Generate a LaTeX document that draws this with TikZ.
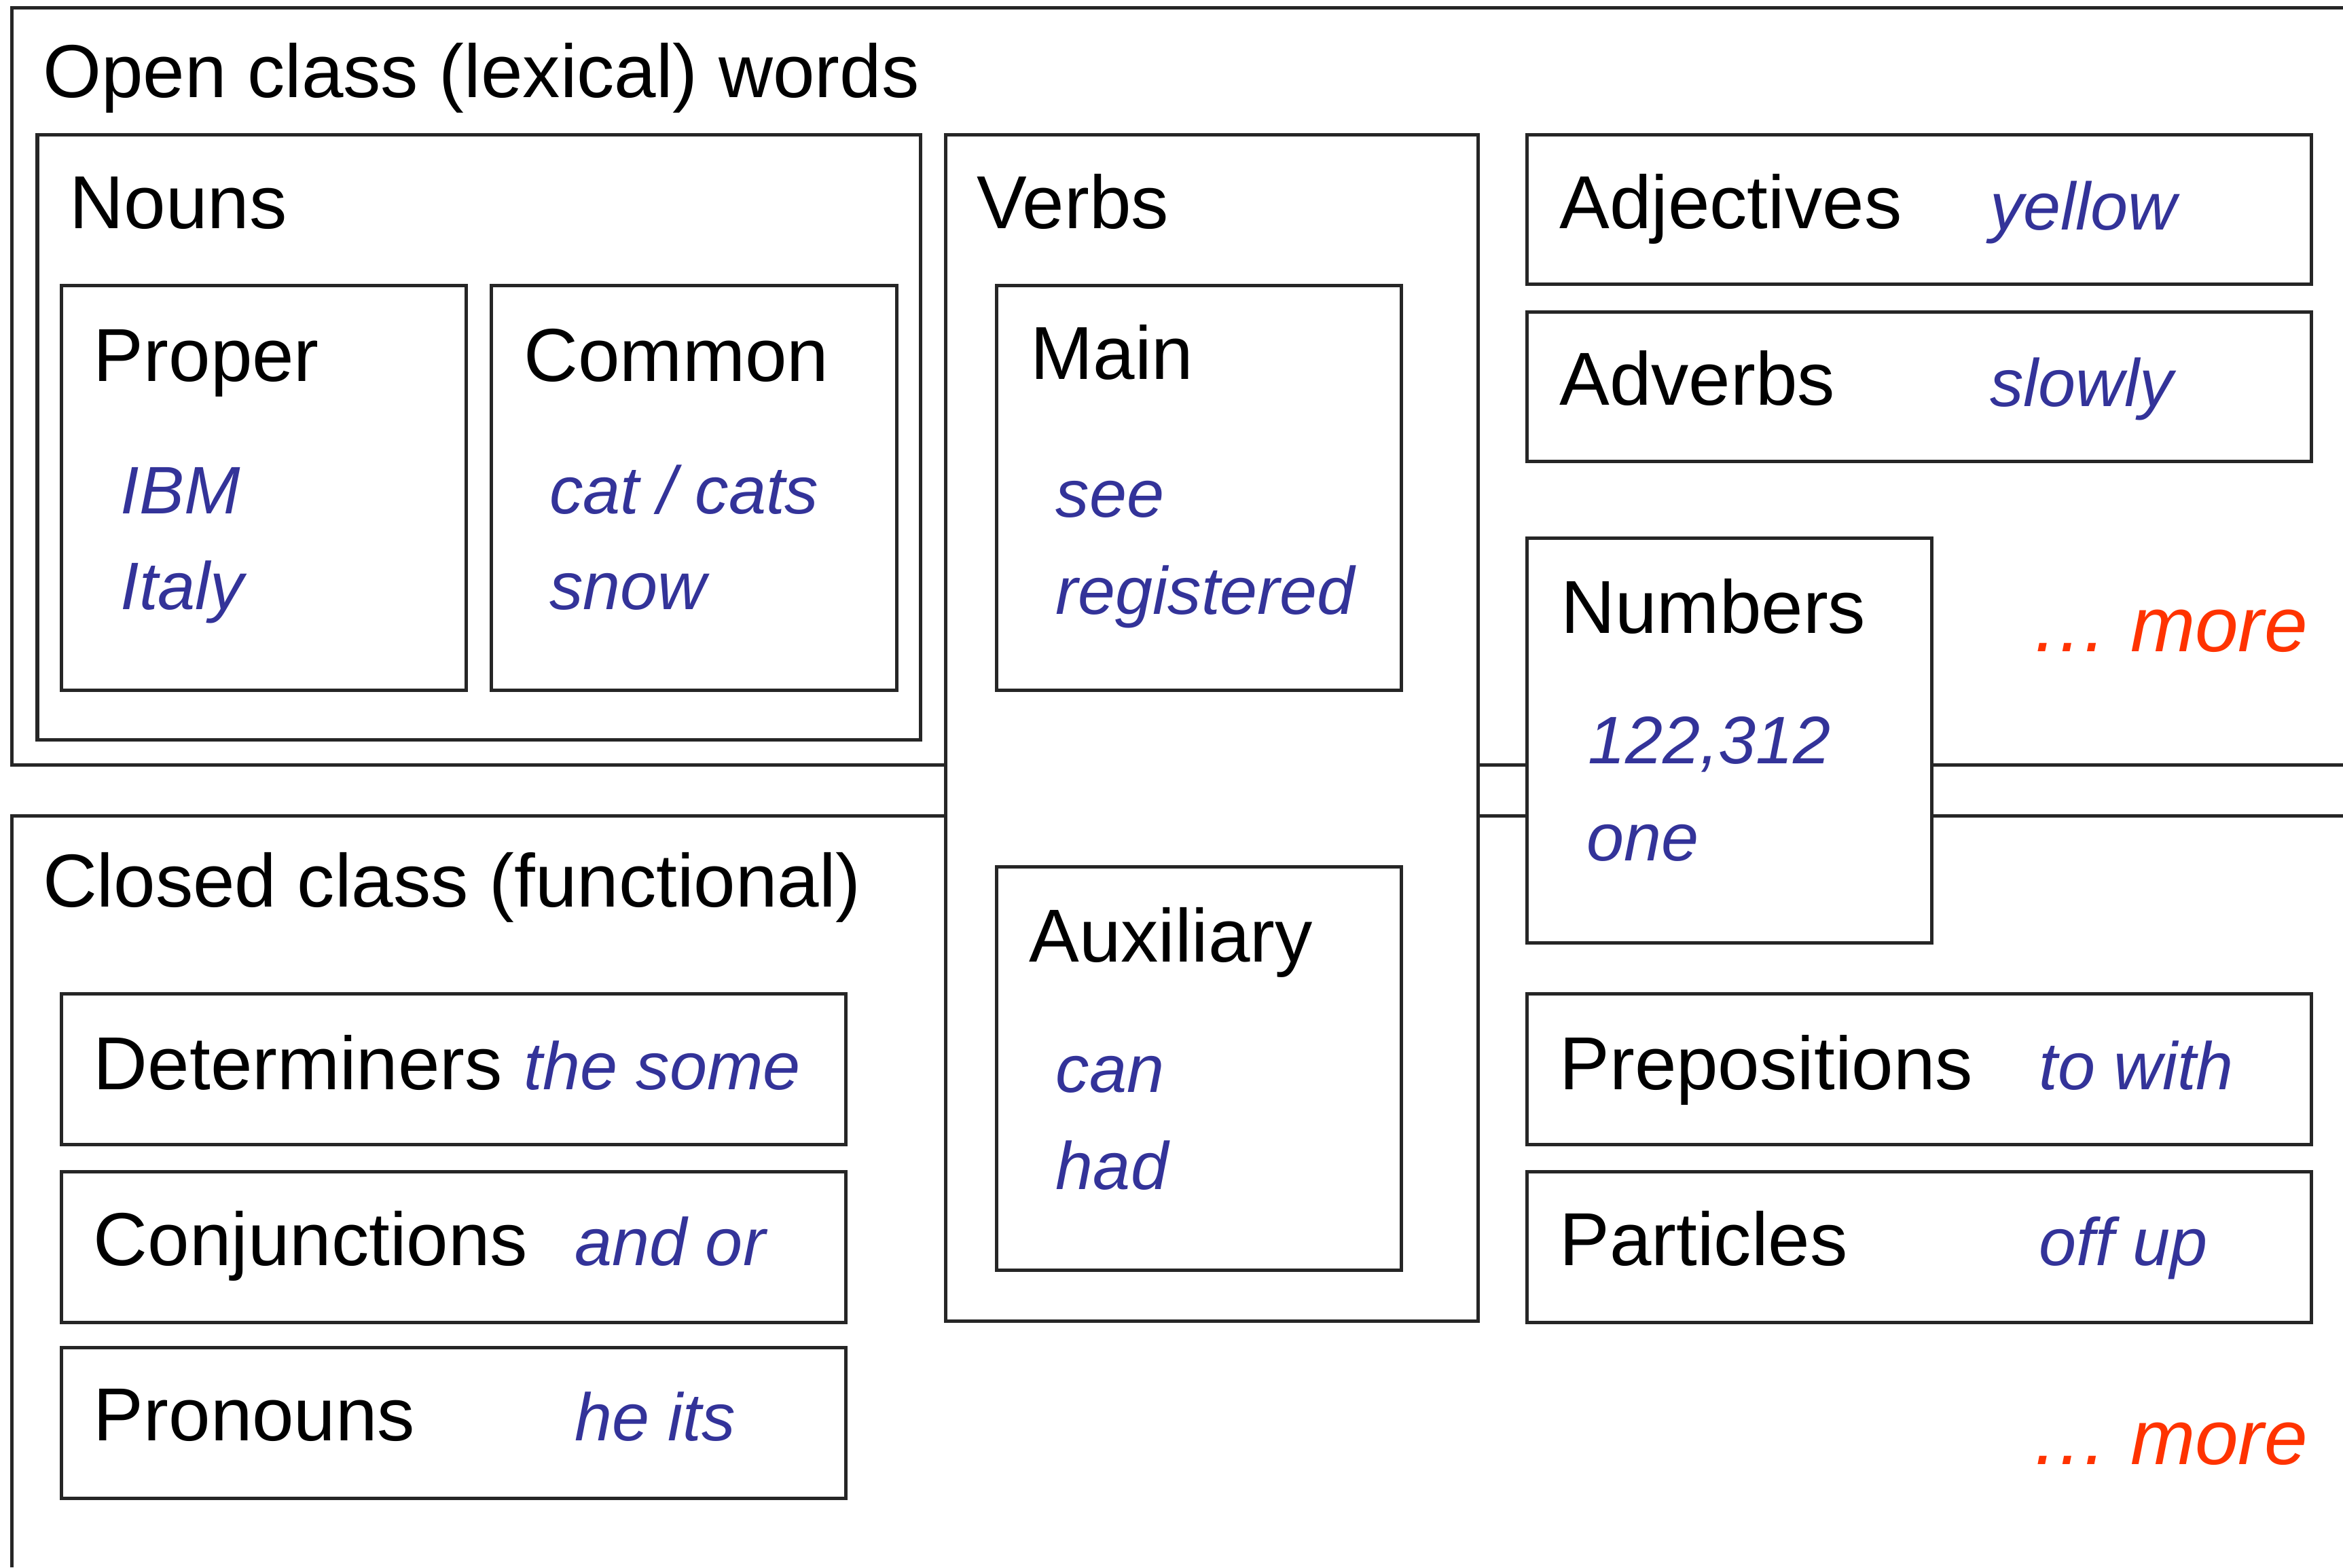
\documentclass[tikz,border=0pt]{standalone}
\usepackage{fontspec}
\setmainfont{Liberation Sans}
\usetikzlibrary{positioning}
\definecolor{exblue}{RGB}{51,51,153}
\definecolor{morered}{RGB}{255,51,0}

\begin{document}
\begin{tikzpicture}[x=0.1mm,y=-0.1mm,
  frame/.style={draw=black!85,line width=0.65pt},
  box/.style={frame,fill=white},
  hd/.style={anchor=base west,inner sep=0pt,font=\fontsize{14.3}{16}\selectfont},
  ex/.style={anchor=base west,inner sep=0pt,text=exblue,font=\fontsize{12.8}{15}\selectfont\itshape},
  moretxt/.style={anchor=base east,inner sep=0pt,text=morered,font=\fontsize{14.8}{17}\selectfont\itshape}]
\useasboundingbox (0,0) rectangle (1568,1049);
% open and closed class frames
\draw [frame] (1568,5) -- (8,5) -- (8,512) -- (1568,512);
\draw [frame] (1568,546) -- (8,546) -- (8,1049);
\node [hd] (open) at (28,65) {Open class (lexical) words};
\node [hd] (closed) at (28,607) {Closed class (functional)};
% nouns
\draw [box] (25,90) rectangle (616,495);
\draw [box] (41,191) rectangle (312,462);
\draw [box] (329,191) rectangle (600,462);
\node [hd] (nouns) at (46,153) {Nouns};
\node [hd] (proper) at (62,255) {Proper};
\node [ex] (ibm) at (80,344) {IBM};
\node [ex] (italy) at (80,408) {Italy};
\node [hd] (common) at (350,255) {Common};
\node [ex] (cat) at (367,344) {cat / cats};
\node [ex] (snow) at (367,408) {snow};
% verbs
\draw [box] (633,90) rectangle (989,884);
\draw [box] (667,191) rectangle (938,462);
\draw [box] (667,580) rectangle (938,850);
\node [hd] (verbs) at (653,153) {Verbs};
\node [hd] (main) at (689,254) {Main};
\node [ex] (see) at (706,346) {see};
\node [ex] (registered) at (706,411) {registered};
\node [hd] (aux) at (688,644) {Auxiliary};
\node [ex] (can) at (706,731) {can};
\node [ex] (had) at (706,796) {had};
% right column
\draw [box] (1022,90) rectangle (1547,190);
\draw [box] (1022,209) rectangle (1547,309);
\draw [box] (1022,360) rectangle (1293,631);
\draw [box] (1022,665) rectangle (1547,766);
\draw [box] (1022,784) rectangle (1547,885);
\node [hd] (adj) at (1043,153) {Adjectives};
\node [ex] (yellow) at (1331,154) {yellow};
\node [hd] (adv) at (1043,271) {Adverbs};
\node [ex] (slowly) at (1331,272) {slowly};
\node [hd] (num) at (1044,424) {Numbers};
\node [ex] (digits) at (1062,511) {122,312};
\node [ex] (one) at (1061,576) {one};
\node [moretxt] (more1) at (1545,436) {… more};
\node [hd] (prep) at (1043,729) {Prepositions};
\node [ex] (towith) at (1364,729) {to with};
\node [hd] (part) at (1043,847) {Particles};
\node [ex] (offup) at (1364,847) {off up};
\node [moretxt] (more2) at (1545,980) {… more};
% closed class boxes
\draw [box] (41,665) rectangle (566,766);
\draw [box] (41,784) rectangle (566,885);
\draw [box] (41,902) rectangle (566,1003);
\node [hd] (det) at (62,729) {Determiners};
\node [ex] (thesome) at (350,729) {the some};
\node [hd] (conj) at (62,847) {Conjunctions};
\node [ex] (andor) at (384,847) {and or};
\node [hd] (pron) at (62,964) {Pronouns};
\node [ex] (heits) at (384,964) {he its};
\end{tikzpicture}
\end{document}
